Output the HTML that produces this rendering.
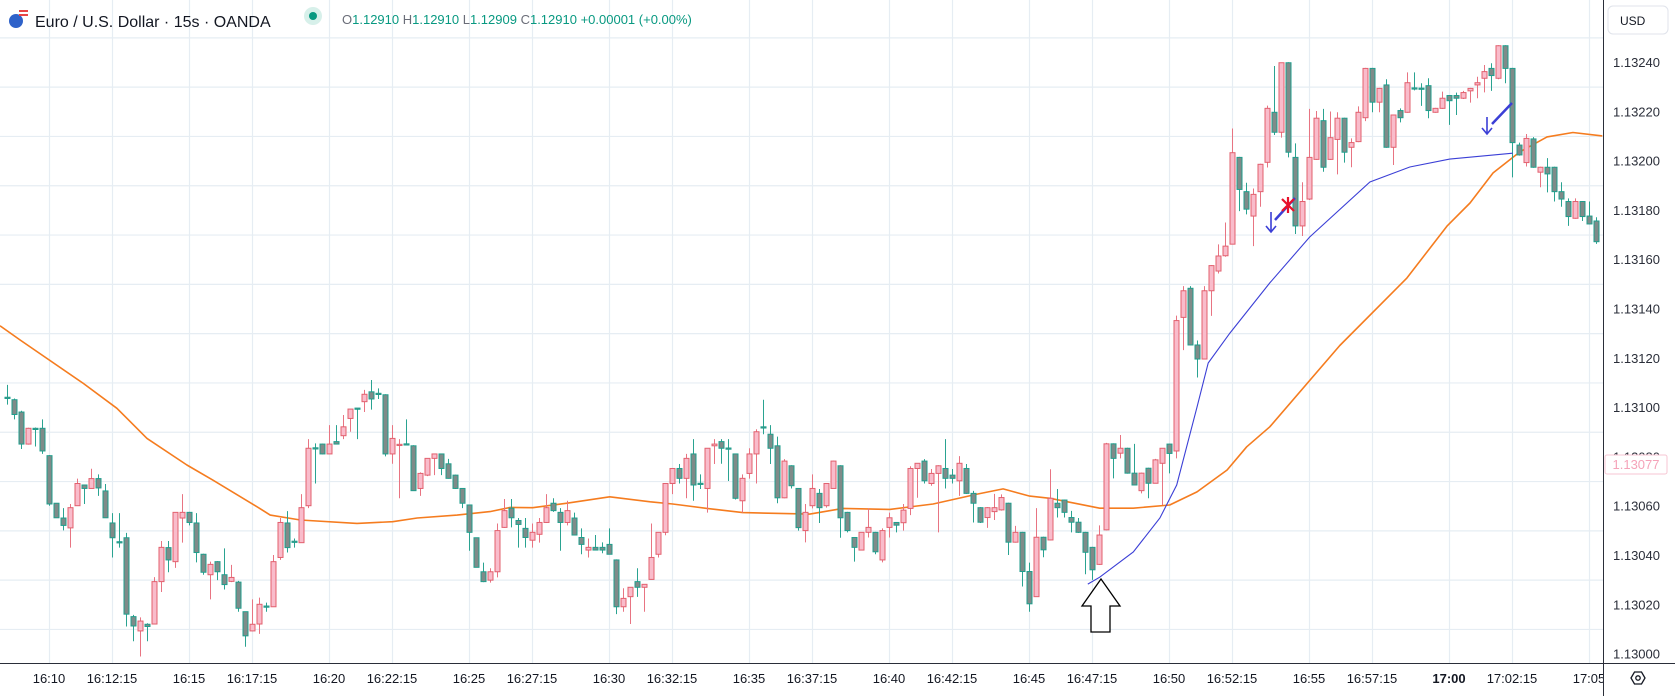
<!DOCTYPE html>
<html><head><meta charset="utf-8"><title>EURUSD 15s chart</title>
<style>
html,body{margin:0;padding:0;background:#fff;}
body{width:1675px;height:696px;overflow:hidden;position:relative;font-family:"Liberation Sans",sans-serif;}
svg{position:absolute;left:0;top:0;}
</style></head>
<body>
<svg id="chart" width="1675" height="696" viewBox="0 0 1675 696" xmlns="http://www.w3.org/2000/svg">
  <rect x="0" y="0" width="1675" height="696" fill="#ffffff"/>
  <g id="grid"></g>
  <g id="plot" clip-path="url(#clipPlot)"></g>
  <defs><clipPath id="clipPlot"><rect x="0" y="0" width="1603" height="663"/></clipPath>
  <clipPath id="clipTime"><rect x="0" y="663" width="1603" height="33"/></clipPath></defs>
  <g id="annot">
    <path d="M1101 579 L1120 606 L1110 606 L1110 632 L1091 632 L1091 606 L1082 606 Z" fill="#fff" stroke="#000" stroke-width="1.3"/>
    <line x1="1295" y1="198" x2="1275" y2="220" stroke="#3b3fd6" stroke-width="2.5"/>
    <path d="M1271 212 L1271 232 M1266 226 L1271 232 L1276 226" fill="none" stroke="#3b3fd6" stroke-width="1.6"/>
    <path d="M1282 199 L1294 211 M1294 199 L1282 211 M1288 197 L1288 213" stroke="#e8102a" stroke-width="2.2"/>
    <line x1="1512" y1="103" x2="1492" y2="124" stroke="#3b3fd6" stroke-width="2.5"/>
    <path d="M1487 117 L1487 134 M1482 128 L1487 134 L1492 128" fill="none" stroke="#3b3fd6" stroke-width="1.6"/>
  </g>
  <g id="axes">
    <rect x="1604" y="0" width="71" height="696" fill="#fff"/>
    <rect x="0" y="664" width="1603" height="32" fill="#fff"/>
    <line x1="1603.5" y1="0" x2="1603.5" y2="696" stroke="#2a2e39" stroke-width="1"/>
    <line x1="0" y1="663.5" x2="1675" y2="663.5" stroke="#2a2e39" stroke-width="1"/>
  </g>
  <g id="yticks"></g>
  <g id="xticks" clip-path="url(#clipTime)"></g>
  <g>
    <rect x="1605" y="455" width="62" height="19" rx="2" fill="#fff" stroke="#f7c6d3"/>
    <text x="1636" y="469" text-anchor="middle" font-size="13" fill="#f5a3b9">1.13077</text>
  </g>
  <g>
    <rect x="1608" y="6" width="60" height="28" rx="5" fill="#fff" stroke="#e0e3eb"/>
    <text x="1620" y="25" font-size="12" fill="#131722">USD</text>
  </g>
  <g>
    <path d="M1631 678 L1634.5 672 L1641.5 672 L1645 678 L1641.5 684 L1634.5 684 Z" fill="none" stroke="#131722" stroke-width="1.3"/>
    <circle cx="1638" cy="678" r="2.2" fill="none" stroke="#131722" stroke-width="1.3"/>
  </g>
  <g>
    <circle cx="16" cy="21" r="7" fill="#2f62c9"/>
    <rect x="19" y="10" width="9" height="6" fill="#e84545"/>
    <rect x="19" y="12" width="9" height="2" fill="#fff"/>
    <text x="35" y="27" font-size="16" fill="#131722">Euro / U.S. Dollar · 15s · OANDA</text>
    <circle cx="313" cy="16" r="9" fill="#d7f0ea"/>
    <circle cx="313" cy="16" r="4" fill="#089981"/>
    <text x="342" y="24" font-size="13" fill="#089981"><tspan fill="#6a6d78">O</tspan>1.12910 <tspan fill="#6a6d78">H</tspan>1.12910 <tspan fill="#6a6d78">L</tspan>1.12909 <tspan fill="#6a6d78">C</tspan>1.12910 +0.00001 (+0.00%)</text>
  </g>
</svg>
<script>
// prices in units of 0.00001 above 1.13000
const opens = [104,103,98,85,91.4,91.4,80.3,61,55,51,60,68.4,67,71,66,53,45.4,47,15,9.2,11.9,12,29.2,43,37.3,55,57.3,53,40.3,32,37.3,32,29.3,29,17,9.2,12,19.3,19,39,53,45.6,45,60,83.5,85,81,86,88.4,95.4,99.6,102.2,106.2,105.6,105,81,84.7,85.1,84.3,67,72.4,79.2,81,77,72.4,67,60.3,47,33.2,29.8,33.2,51.2,59,54,50.8,46,48.4,53.2,61,57.3,53.2,55,47.1,42,43.1,43.1,44.3,38,19,23.1,29.2,26.9,30.1,40.3,49.2,69,75.1,71.1,81,69.1,67,84.3,86,83.4,81,62,73.1,81,92,89,84.3,63.2,76.2,67,49.9,60,65,60,67,76.2,57.3,47.1,42,49.2,49.2,38,51.2,53.2,53.1,58.9,75.1,78.1,69,73.1,75.1,72.4,70.1,75.1,65,59.2,55.2,57.6,58.3,61,45.2,49.2,33.3,23.1,47.2,46.1,61,62.3,55.2,53.3,49.2,43.1,36.2,50.2,85.1,81.3,83.3,73.2,66.1,75.2,69.1,77.2,85,82.2,136.4,148.2,125.2,119.5,147.2,155.2,161.4,166.1,201.3,187.4,177.5,187.4,199.3,219.6,211.5,239.7,201.3,173.5,184.4,200.5,216.2,200.5,208.6,217.2,205.4,207.7,217.4,237.4,223.7,230.7,205.4,220.3,219.6,229.5,229.4,230.4,219.6,221.2,226.4,226.4,225.3,228.3,230.7,233.4,237.4,233.4,246.6,237.4,206.3,199.2,208.8,195.3,197.3,197.3,187.4,183.4,176.6,183.4,177.5,175.5];
const highs = [109,103.5,98.5,91.6,91.7,95,80.5,61,59,60.7,71,68.6,75,72.7,68.8,57,57,49,15.7,14.7,12.3,31,45.7,45.7,57.3,64.7,57.5,57,40.5,37.3,37.5,42.7,36,29.5,17,22,22.7,20.7,40,55,57.8,46.7,64.7,87,85.3,85.2,92.7,92.7,96.8,99.2,99.6,107,111,107.6,105.2,92.7,87,95,84.5,73.5,79.2,81,81,79,72.6,67,60.5,47,36.9,34.6,52.8,62.7,62.7,55,55,52.8,55,64.7,63,59,62,57.2,50.8,46.7,48.1,45.1,50.8,38.2,26.5,27,34.6,28.1,52.8,49.2,69,75.1,76.9,81,87,72.7,83.3,87,87,87,81,72.7,83.3,91,103,92.7,88,78.9,76.4,67.2,60.7,72.7,66.8,69,78.3,76.4,57.5,47.3,49.2,58.9,49.4,50.8,57.2,53.4,60.7,76,77.2,78.9,74.9,76.4,87,74.9,80.1,76.9,66,59.4,59.4,64.8,64.6,61.2,51.8,49.4,36.9,59,47.4,74.8,66.8,62.5,57.9,55,49.4,43.3,52,85.5,85.3,88.7,83.5,85.1,73.4,75.4,79,83.3,85.2,137.1,149.1,149.1,127,149.1,157.6,166,174.9,213,201.5,191,188.7,198.7,222.3,238.4,239.7,239.9,207,191.2,221,220.1,221,219.9,219.6,217.4,209,222,237.6,237.6,229.5,233,218.7,221.2,235.8,235.8,231.4,233.4,221.4,228,226.6,227.6,228.3,229.5,234,238.8,239.5,246.8,246.8,237.6,207.3,210.8,209.5,197.5,201,197.5,191.2,184.7,184.7,183.6,183.4,177];
const lows = [101,95,83,84.8,84,81,60,55,50,43,60,60.7,67,64,55,39,43,11,5,-1.2,5,12,25,33,34.8,45,52,37,32,22,29.8,26,29,17,2.8,9,8,17,19,38,41,43,45,59,69,80.8,81,85,87,90,87,98,99,103.3,80,77,63,84.7,66,64,72,72.4,72.4,71,66.8,59,41.7,35,29,28.8,30.9,51,51.2,43,43,43,45,53,57.5,41.7,52,48,40.3,39,42,40.7,40.3,16,17,12,23,17,30,39,48,64.7,69,63,62,66.8,57.2,76.9,77,70,62.5,57.2,71,69,89,76.9,61,63,67,49.9,45.1,58.9,53,59.2,67,47,49.2,37.3,42,47.1,40.3,37,47.1,49.2,49.9,56.2,63.2,69,68.1,49.2,67,69,64,64.8,53.2,53,51,54.2,58,40,45,27.2,17,23,39.1,45.9,55.2,55.2,49.2,49,32.2,29.9,36,50,71.1,79.2,73,68.4,65,63,69,60.3,73.1,79.2,123.1,125,112,119.3,137,154.2,161,166,179.5,178.2,165.3,181.3,197.2,210.4,209.3,201.3,170.2,169.4,184,200.3,195.5,200.3,194.4,199.2,197.3,207.5,216,219.6,219.6,205.2,198.2,215.5,219.4,228.5,222.2,217.2,219.4,221,214.5,218.5,225,223.5,225.3,227.7,228.3,233,231.4,193.2,202,197.6,197.1,189.2,187.1,183.4,181.3,173.5,176.4,175.5,174.1,166.2];
const closes = [103.5,97,85,91.4,91.2,82.2,60.7,55.1,52,59.2,69,67,71,67.2,55.1,47,45.2,16,11.2,13.2,11,29.2,43.1,38,57.3,57.3,53.2,41,33,36.2,33.2,28,30.9,18.4,7.2,11.9,20,19.1,37.3,53.2,43,45.4,59.2,83.3,83.3,81,85,85,92,99.2,99.4,105.2,103.3,105.4,81,87.3,84.9,84.9,66.1,73.1,79.2,81,75.1,71.1,67,61,49.2,35,29.2,33.2,49.9,58,55.1,52.4,47.1,49.2,53.2,59.2,58,53.2,58,48.1,44.3,43.1,42,42,40.3,19,22.4,26.9,26.9,28.1,39,49.2,69,75.1,71.1,79.2,68.4,69,83.3,85,83.3,83.2,63,71.1,81,90,91.8,83.3,63.2,78.1,68.1,51.1,57.3,67,59.2,69,78.1,55.1,49.9,43.1,49.2,51.2,41.3,49.9,55.1,52.1,58.2,75.1,77.2,70.1,73.1,76.2,71.1,71.1,77.2,65,61,53.3,59.2,59.2,63.3,45.2,49.2,33.3,20.2,47.2,42.1,63,59.2,57.3,53.3,49.2,41.1,34,48.1,85.1,79.2,83.3,73.2,68.4,73.2,69.1,78.6,83.3,81.2,135.1,147.2,125.2,119.5,147.2,157.4,161.3,165.3,203.2,188.3,180.3,186.3,198.5,221.2,211.5,239.7,203.4,173.5,183.4,201.3,217.2,197.3,209.3,217.2,203.4,207.3,219.6,237.4,223.7,229.3,205.4,218.5,217.4,231.6,229.3,229.2,220.3,221.2,225.3,224.3,225.3,227.6,229.3,231.6,236.1,234.5,246.6,237.4,207.3,202.3,209,197.3,197.3,194.6,187.4,184.4,177.3,183.4,177.3,174.3,167.1];
// slow moving average (orange), sampled at candle indices
const maIdx = [-1,1.9,10.9,15.7,20,25.7,29.4,36.1,37.6,41.9,50,55.1,58.6,64.3,69,71.9,75.1,80,86.1,91.9,95.1,100,105.1,114.7,119.4,126.1,132.3,138.6,142.3,146.1,149,156.1,160.9,166.1,170,174.3,177.1,180.4,190.4,200,205.7,209,212.3,216.1,220,223.7,227.9];
const maVal = [133,127.2,109.6,99.5,87.3,76.5,70.4,58.9,56.2,54.2,52.8,53.5,55,56.2,57.6,59.3,59.2,61,63.6,61.6,60.7,58.9,57.2,56.6,58.9,58.5,60.7,64.7,66.8,63.9,63,59,59,60.3,65.6,74.5,83.9,92,125,152.4,173.4,182.8,195,203.5,209.6,211.4,210];
// anchored line (blue)
const blueIdx = [154.4,156.1,160.9,164.7,167.1,170,171.6,174.7,180.4,186.1,194.7,200.4,206.1,215.1];
const blueVal = [28.2,31,41.2,55,68.4,100,117.9,130,150.4,169,191.3,197.4,200.6,203];
// axis tick labels
const priceTicks = [0,20,40,60,80,100,120,140,160,180,200,220,240];
const priceTickLabels = ["1.13000","1.13020","1.13040","1.13060","1.13080","1.13100","1.13120","1.13140","1.13160","1.13180","1.13200","1.13220","1.13240"];
const timeTickIdx = [6,15,26,35,46,55,66,75,86,95,106,115,126,135,146,155,166,175,186,195,206,215,226];
const timeTickLabels = ["16:10","16:12:15","16:15","16:17:15","16:20","16:22:15","16:25","16:27:15","16:30","16:32:15","16:35","16:37:15","16:40","16:42:15","16:45","16:47:15","16:50","16:52:15","16:55","16:57:15","17:00","17:02:15","17:05"];

const NS = "http://www.w3.org/2000/svg";
function X(i){ return 7 + 7*i; }
function Y(u){ return 62 + (240 - u)*2.465; }
function mk(tag, attrs, parent){
  const e = document.createElementNS(NS, tag);
  for (const k in attrs) e.setAttribute(k, attrs[k]);
  parent.appendChild(e);
  return e;
}
const grid = document.getElementById('grid');
const plot = document.getElementById('plot');
const yt = document.getElementById('yticks');
const xt = document.getElementById('xticks');

// horizontal grid at half steps between labels
for (let u = -10; u <= 260; u += 20) {
  const l = mk('line', {x1:0, x2:1603, y1:Y(u)+0.5, y2:Y(u)+0.5, stroke:'#e6edf3', 'stroke-width':1.2}, grid);
  
  
}
timeTickIdx.forEach((ti, k) => {
  const l = mk('line', {x1:X(ti)+0.5, x2:X(ti)+0.5, y1:0, y2:663, stroke:'#e6edf3', 'stroke-width':1.2}, grid);
  
  
  const t = mk('text', {x:X(ti), y:683, 'text-anchor':'middle', 'font-size':13, fill:'#131722', 'font-weight': timeTickLabels[k]==='17:00'?'bold':'normal'}, xt);
  t.textContent = timeTickLabels[k];
  
  
});
priceTicks.forEach((u, k) => {
  const t = mk('text', {x:1613, y:Y(u)+5, 'font-size':13, fill:'#2a2e39'}, yt);
  t.textContent = priceTickLabels[k];
  
  
});

// MA lines
function linePath(idx, val){ return idx.map((i,k)=>(k?'L':'M')+X(i).toFixed(1)+' '+Y(val[k]).toFixed(1)).join(' '); }
const ma = mk('path', {d:linePath(maIdx, maVal), fill:'none', stroke:'#f57c1f', 'stroke-width':1.6, 'stroke-linejoin':'round'}, plot);



// candles
for (let i = 0; i < opens.length; i++) {
  const o = opens[i], c = closes[i], h = highs[i], lo = lows[i];
  const bull = c >= o;
  const g = mk('g', {}, plot);
  
  
  const x = X(i);
  const w = mk('line', {x1:x+0.5, x2:x+0.5, y1:Y(h), y2:Y(lo), stroke: bull?'#e87482':'#2aa391', 'stroke-width':1}, g);
  
  
  const top = Y(Math.max(o,c)), bot = Y(Math.min(o,c));
  const b = mk('rect', {x:x-2, y:top, width:5, height:Math.max(1.2, bot-top), fill: bull?'#f9bccb':'#7f8b89', stroke: bull?'#e2606e':'#1f9e8c', 'stroke-width':1}, g);
  
  
}

const blue = mk('path', {d:linePath(blueIdx, blueVal), fill:'none', stroke:'#3b3fd6', 'stroke-width':1.1}, plot);



// move annotations above candles
const svg = document.getElementById('chart');
svg.insertBefore(document.getElementById('annot'), document.getElementById('axes'));
</script>
</body></html>
